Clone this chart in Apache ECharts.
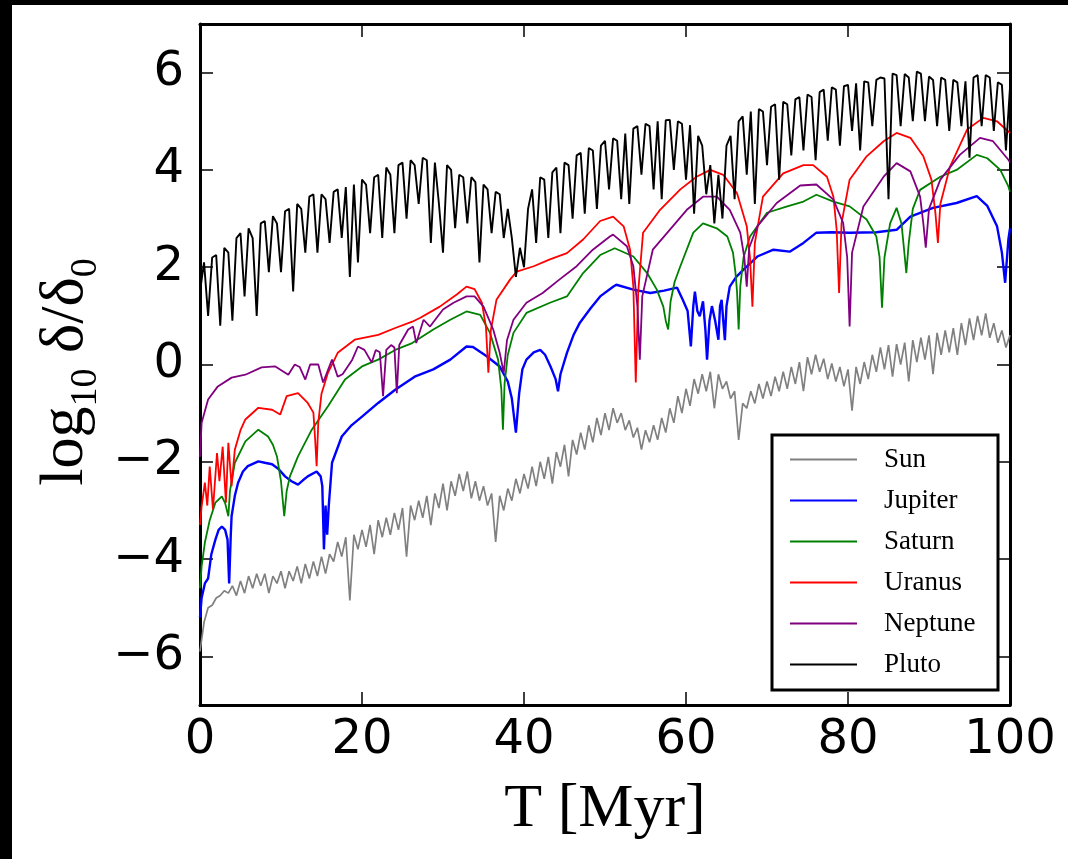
<!DOCTYPE html>
<html>
<head>
<meta charset="utf-8">
<script src="https://cdn.jsdelivr.net/npm/echarts@6/dist/echarts.min.js"></script>
<style>
html,body{margin:0;padding:0;background:#fff;}
#chart{width:1068px;height:859px;}
</style>
</head>
<body>
<div id="chart"></div>
<script>
// ---- data ----
const seriesNames = ['Sun', 'Jupiter', 'Saturn', 'Uranus', 'Neptune', 'Pluto'];
const seriesColors = ['#808080', '#0000ff', '#008000', '#ff0000', '#800080', '#000000'];
const xTickValues = [0, 20, 40, 60, 80, 100];
const yTickValues = [-6, -4, -2, 0, 2, 4, 6];
const yTickLabels = ['\u22126', '\u22124', '\u22122', '0', '2', '4', '6'];

// Sun and Pluto sampled every 0.5 Myr from T = 0 to 100
const gridStep = 0.5;
const sunValues = [
 -5.9,-5.3,-5.0,-4.95,-4.8,-4.75,-4.65,-4.7,-4.55,-4.75,
 -4.45,-4.7,-4.35,-4.6,-4.3,-4.55,-4.3,-4.7,-4.35,-4.5,
 -4.25,-4.6,-4.25,-4.45,-4.15,-4.5,-4.1,-4.4,-4.05,-4.35,
 -3.95,-4.3,-3.9,-4.05,-3.65,-3.95,-3.55,-4.85,-3.5,-3.8,
 -3.4,-3.75,-3.3,-3.9,-3.2,-3.55,-3.15,-3.5,-3.05,-3.4,
 -2.95,-3.95,-2.9,-3.2,-2.8,-3.15,-2.7,-3.3,-2.65,-2.95,
 -2.45,-3.0,-2.4,-2.7,-2.25,-2.6,-2.2,-2.75,-2.4,-2.8,
 -2.5,-2.9,-2.65,-3.65,-2.7,-3.0,-2.55,-2.8,-2.35,-2.65,
 -2.25,-2.55,-2.1,-2.5,-2.0,-2.35,-1.9,-2.45,-1.8,-2.1,
 -1.65,-2.3,-1.55,-1.85,-1.4,-1.75,-1.25,-1.6,-1.1,-1.45,
 -1.0,-1.35,-0.9,-1.2,-1.0,-1.35,-1.15,-1.5,-1.3,-1.75,
 -1.35,-1.6,-1.25,-1.55,-1.1,-1.4,-0.9,-1.2,-0.65,-1.0,
 -0.5,-0.85,-0.3,-0.6,-0.2,-0.55,-0.15,-0.9,-0.2,-0.5,
 -0.35,-0.7,-0.55,-1.55,-0.8,-0.9,-0.55,-0.8,-0.4,-0.7,
 -0.35,-0.65,-0.25,-0.55,-0.15,-0.5,-0.05,-0.4,0.05,-0.55,
 0.15,-0.2,0.2,-0.15,0.12,-0.3,0.02,-0.35,-0.05,-0.45,
 -0.1,-0.95,-0.05,-0.4,0.05,-0.3,0.2,-0.15,0.35,-0.1,
 0.4,-0.25,0.42,0.0,0.45,-0.35,0.5,0.05,0.55,0.1,
 0.6,-0.2,0.65,0.2,0.7,0.25,0.75,0.2,0.85,0.4,
 0.95,0.5,1.0,0.6,1.05,0.55,0.85,0.45,0.7,0.35,
 0.6
];
const plutoValues = [
 1.5,2.1,1.0,2.2,2.25,0.8,2.4,2.3,0.9,2.6,
 2.7,1.4,2.8,2.6,1.0,2.9,2.95,1.9,3.05,2.9,
 1.9,3.15,3.2,1.5,3.3,3.2,2.3,3.45,3.5,2.3,
 3.5,3.4,2.5,3.55,3.6,2.6,3.65,1.8,3.7,2.1,
 3.8,3.7,2.7,3.85,3.9,2.6,4.05,3.9,2.7,4.1,
 4.15,3.0,4.2,4.1,3.3,4.25,4.2,2.5,4.15,3.3,
 2.3,4.1,4.0,2.8,3.9,3.85,2.9,3.85,3.75,2.1,
 3.7,3.6,2.7,3.55,3.5,2.6,3.2,2.6,1.8,2.4,
 2.0,3.2,3.6,2.5,3.85,3.8,2.6,3.95,4.05,2.7,
 4.15,4.1,3.0,4.3,4.35,3.1,4.45,4.4,3.2,4.5,
 4.6,3.6,4.65,4.6,3.4,4.75,3.3,4.85,4.9,3.9,
 4.95,4.9,3.6,5.0,3.4,5.02,5.03,4.0,5.0,4.95,
 3.8,4.92,3.1,4.7,4.5,3.5,4.1,2.9,3.9,3.0,
 4.5,4.7,3.4,5.0,5.1,3.9,5.2,3.3,5.25,5.2,
 4.1,5.3,5.35,3.8,5.4,5.35,4.3,5.45,5.5,4.4,
 5.55,5.5,4.2,5.6,5.65,4.6,5.7,5.65,4.5,5.72,
 5.75,4.8,5.78,4.4,5.82,5.8,4.9,5.85,5.9,5.88,
 3.4,5.98,5.95,4.9,5.97,5.9,5.0,6.02,5.98,5.0,
 5.92,5.85,4.9,5.9,5.85,4.8,5.85,5.8,4.9,5.82,
 4.25,5.9,5.95,4.9,5.95,5.9,4.8,5.8,5.75,4.4,
 5.7
];

// [T (Myr), log10 delta/delta0]
const jupiterPoints = [
 [0,-5.2],[0.2,-4.8],[0.6,-4.5],[1,-4.4],[1.4,-3.9],[1.9,-3.6],[2.3,-3.4],[2.7,-3.33],[3.1,-3.4],[3.4,-3.6],
 [3.6,-4.5],[3.8,-3.5],[3.9,-3.12],[4.3,-2.7],[4.7,-2.43],[5.3,-2.2],[5.9,-2.09],[7.2,-1.99],[8.0,-2.02],[8.9,-2.05],
 [9.7,-2.15],[10.5,-2.3],[11.3,-2.4],[12.1,-2.47],[12.7,-2.38],[13.3,-2.3],[14.4,-2.2],[14.9,-2.3],[15.1,-2.5],[15.3,-3.8],
 [15.5,-2.9],[15.7,-3.5],[15.9,-2.9],[16.3,-2.02],[17.5,-1.48],[18.7,-1.25],[20,-1.07],[22,-0.79],[24.1,-0.52],[26.5,-0.25],
 [28.8,-0.1],[30.9,0.1],[32.9,0.37],[33.7,0.36],[35.4,0.17],[37,-0.04],[38.0,-0.35],[38.5,-0.7],[39,-1.4],[39.4,-0.6],
 [39.8,-0.1],[40.3,0.1],[41.2,0.25],[42,0.3],[42.6,0.2],[43.3,-0.05],[43.9,-0.3],[44.2,-0.55],[44.5,-0.2],[45.3,0.24],
 [46.1,0.6],[46.9,0.86],[48.2,1.15],[49.4,1.4],[51,1.6],[51.4,1.64],[53.5,1.54],[55.6,1.47],[57.3,1.52],[58.9,1.58],
 [59.6,1.33],[60.2,1.1],[60.6,0.37],[60.9,1.2],[61.1,1.5],[61.4,1.1],[61.7,0.99],[62.1,1.3],[62.4,0.7],[62.6,0.1],
 [62.9,0.9],[63.2,1.2],[63.6,0.9],[64,0.51],[64.2,1.2],[64.4,1.33],[64.6,0.9],[64.8,0.5],[65.0,1.2],[65.4,1.6],
 [66.2,1.8],[67.1,1.95],[68.8,2.22],[70.8,2.36],[72.8,2.32],[74.5,2.5],[76.1,2.71],[78,2.72],[80.2,2.71],[83.5,2.72],
 [85,2.75],[86,2.77],[87.7,3.04],[90.5,3.22],[93.4,3.32],[95.9,3.46],[97.2,3.26],[98.4,2.84],[99,2.3],[99.4,1.68],
 [99.8,2.57],[100,2.8]
];
const saturnPoints = [
 [0,-4.6],[0.2,-4.15],[0.6,-3.66],[1.2,-3.2],[1.9,-2.84],[2.7,-2.71],[3.1,-2.85],[3.5,-3.12],[3.7,-2.6],[4.3,-2.02],
 [5.6,-1.58],[7.2,-1.34],[8.4,-1.48],[9.0,-1.65],[9.5,-1.89],[10.0,-2.4],[10.4,-3.12],[10.7,-2.6],[11.1,-2.3],[12.1,-1.89],
 [13.8,-1.34],[15.8,-0.86],[17.9,-0.31],[20,-0.04],[22,0.1],[24.1,0.3],[26.2,0.44],[28.8,0.72],[30.9,0.92],[32.9,1.09],
 [34.6,1.02],[35.8,0.65],[36.8,0.1],[37.2,-0.5],[37.4,-1.34],[37.6,-0.4],[38.0,0.2],[38.7,0.65],[40.3,1.06],[43.2,1.27],
 [45.3,1.4],[47.3,1.88],[49.4,2.25],[51.2,2.39],[53.5,2.22],[55.2,1.88],[56.4,1.54],[57.2,1.19],[57.5,0.9],[57.8,0.72],
 [58.1,1.3],[58.6,1.7],[59.3,2.02],[60.9,2.71],[62.1,2.9],[63.8,2.8],[65.1,2.63],[65.8,2.3],[66.1,1.9],[66.3,1.5],
 [66.5,0.72],[66.7,1.6],[67.1,2.2],[67.9,2.63],[70,3.12],[72.5,3.25],[74.5,3.35],[76.1,3.49],[78.2,3.35],[80.2,3.25],
 [82.3,2.98],[83.5,2.63],[83.9,2.2],[84.2,1.17],[84.5,2.2],[85.2,2.9],[86,3.22],[86.6,2.9],[86.9,2.4],[87.2,1.88],
 [87.5,2.5],[88.0,3.2],[88.9,3.59],[91.4,3.86],[93.4,4.0],[95.9,4.31],[97.2,4.24],[98.8,4.0],[99.8,3.66],[100,3.55]
];
const uranusPoints = [
 [0,-3.3],[0.2,-2.92],[0.6,-2.43],[0.9,-2.9],[1.2,-2.1],[1.6,-2.98],[2.1,-1.82],[2.4,-2.4],[2.8,-1.69],[3.2,-2.84],
 [3.5,-1.61],[3.9,-2.5],[4.3,-1.75],[5.0,-1.35],[5.6,-1.13],[7.2,-0.89],[8.9,-0.93],[9.9,-1.03],[10.7,-0.65],[12.1,-0.59],
 [13.3,-0.79],[14.0,-0.99],[14.2,-1.5],[14.4,-2.09],[14.6,-1.2],[15.0,-0.6],[15.8,-0.17],[17,0.24],[19.1,0.51],[22,0.61],
 [24.1,0.75],[26.2,0.88],[27.2,0.96],[29.6,1.19],[31.7,1.44],[32.9,1.6],[33.9,1.55],[34.8,1.27],[35.3,0.78],[35.6,-0.17],
 [35.9,0.7],[36.6,1.33],[38.3,1.75],[39.1,1.91],[41.2,2.02],[43.2,2.16],[45.3,2.29],[47.3,2.57],[49.4,2.95],[51,3.04],
 [52.3,2.84],[53.1,2.36],[53.5,1.6],[53.8,-0.37],[54.1,1.5],[54.7,2.71],[56.8,3.18],[59.3,3.6],[61.3,3.86],[63,4.0],
 [64.6,3.9],[66.3,3.52],[67.5,2.84],[67.9,2.2],[68.2,1.19],[68.5,2.5],[69.5,3.45],[72,3.93],[74.5,4.1],[75.7,4.1],
 [77.4,3.86],[78.2,3.45],[78.6,2.77],[78.9,1.47],[79.2,2.9],[80.2,3.8],[82.3,4.28],[84.4,4.59],[86,4.76],[87.7,4.66],
 [89.3,4.28],[90.3,3.8],[90.8,3.1],[91.1,2.5],[91.4,3.3],[92.6,4.07],[94.7,4.83],[96.7,5.07],[98.4,5.0],[99.8,4.79],
 [100,4.75]
];
const neptunePoints = [
 [0,-1.9],[0.2,-1.2],[1,-0.72],[2.2,-0.45],[3.9,-0.27],[5.6,-0.21],[7.6,-0.06],[9.3,-0.04],[10.9,-0.21],[11.7,0],
 [12.3,-0.05],[13,-0.31],[13.6,0],[14.6,0],[15.2,-0.37],[16.3,0.1],[17,-0.25],[17.6,-0.2],[18.8,0.1],[19.5,0.37],
 [20.3,0.3],[21.2,0.04],[21.7,0.3],[22.2,0.25],[22.6,-0.65],[23.0,0.3],[23.6,0.4],[24.0,0.35],[24.3,-0.59],[24.6,0.4],
 [25.7,0.72],[26.3,0.78],[26.7,0.44],[27.6,0.92],[28.4,0.78],[30,1.13],[31.3,1.27],[32.9,1.4],[33.9,1.4],[35,1.19],
 [36.2,0.72],[37,0.24],[37.5,-0.17],[37.9,0.5],[38.7,0.92],[40.3,1.27],[42.3,1.47],[44.4,1.75],[46.5,2.02],[48.5,2.36],
 [50.6,2.63],[51,2.67],[52.7,2.43],[53.5,2.02],[54.0,1.2],[54.3,0.1],[54.6,1.4],[55.9,2.36],[57.7,2.71],[60.1,3.18],
 [62.1,3.45],[63.8,3.45],[65.4,3.18],[66.7,2.71],[67.2,2.2],[67.5,1.6],[67.8,2.4],[68.8,2.84],[71.2,3.32],[74.1,3.68],
 [76.1,3.7],[78.2,3.39],[79.4,2.91],[79.9,2.2],[80.2,0.78],[80.5,2.3],[81.9,3.25],[84.4,3.86],[86,4.14],[87.7,3.97],
 [88.9,3.45],[89.3,2.9],[89.6,2.4],[90.0,3.2],[91.4,3.8],[93.8,4.31],[96.3,4.66],[97.9,4.59],[99.8,4.21],[100,4.15]
];

// ---- build chart ----
function gridPairs(vals){ return vals.map((v,i)=>[i*gridStep, v]); }
const seriesData = [gridPairs(sunValues), jupiterPoints, saturnPoints, uranusPoints, neptunePoints, gridPairs(plutoValues)];
const seriesWidths = [1.7, 2.4, 1.8, 1.8, 1.8, 1.9];

const chart = echarts.init(document.getElementById('chart'), null, {renderer:'canvas'});
const tickStyle = {inside:true, length:13, lineStyle:{color:'#000', width:1.5}};
const lineAx = {show:true, onZero:false, lineStyle:{color:'#000', width:3}};
const labelFont = {fontSize:48, fontFamily:'DejaVu Sans', color:'#000'};

const option = {
  animation:false,
  backgroundColor:'#ffffff',
  grid:{left:200, top:24, width:810, height:681, show:false},
  xAxis:[
    {type:'value', min:0, max:100, interval:20, position:'bottom',
     axisLine:lineAx, axisTick:Object.assign({customValues:xTickValues}, tickStyle),
     axisLabel:Object.assign({customValues:xTickValues, margin:12}, labelFont),
     splitLine:{show:false}},
    {type:'value', min:0, max:100, interval:20, position:'top',
     axisLine:lineAx, axisTick:Object.assign({customValues:xTickValues}, tickStyle),
     axisLabel:{show:false}, splitLine:{show:false}}
  ],
  yAxis:[
    {type:'value', min:-7, max:7, position:'left',
     axisLine:lineAx, axisTick:Object.assign({customValues:yTickValues}, tickStyle),
     axisLabel:Object.assign({customValues:yTickValues, margin:16,
       formatter:(v)=>{const k=yTickValues.indexOf(v); return k>=0?yTickLabels[k]:'';}}, labelFont),
     splitLine:{show:false}},
    {type:'value', min:-7, max:7, position:'right',
     axisLine:lineAx, axisTick:Object.assign({customValues:yTickValues}, tickStyle),
     axisLabel:{show:false}, splitLine:{show:false}}
  ],
  legend:{
    orient:'vertical', left:790, top:446, padding:0, itemWidth:67, itemHeight:2, itemGap:14, z:20,
    icon:'rect',
    data:seriesNames, selectedMode:false,
    textStyle:{fontFamily:'Liberation Serif', fontSize:27, color:'#000', padding:[0,0,0,22]}
  },
  graphic:[
    {type:'rect', z:10, shape:{x:772, y:435, width:226, height:255}, style:{fill:'#fff', stroke:'#000', lineWidth:3}},
    {type:'rect', z:30, shape:{x:0, y:0, width:1068, height:5}, style:{fill:'#000'}},
    {type:'rect', z:30, shape:{x:0, y:0, width:12, height:859}, style:{fill:'#000'}},
    {type:'text', z:30, x:66, y:372, rotation:Math.PI/2,
     style:{text:'{a|log}{s|10}{a| \u03b4/\u03b4}{s|0}', align:'center', verticalAlign:'middle', fill:'#000',
       rich:{a:{fontFamily:'Liberation Serif', fontSize:62, fill:'#000'},
             s:{fontFamily:'Liberation Serif', fontSize:38, fill:'#000', padding:[40,0,0,0]}}}},
    {type:'text', z:30, x:605, y:810,
     style:{text:'T [Myr]', align:'center', verticalAlign:'middle', fill:'#000',
       font:'62px "Liberation Serif"'}}
  ],
  series: seriesNames.map((name,i)=>({
    name:name, type:'line', data:seriesData[i], xAxisIndex:0, yAxisIndex:0,
    showSymbol:false, symbol:'none', silent:true, z:2+i,
    lineStyle:{color:seriesColors[i], width:seriesWidths[i]}, itemStyle:{color:seriesColors[i]},
    emphasis:{disabled:true}
  }))
};
chart.setOption(option);
</script>
</body>
</html>
